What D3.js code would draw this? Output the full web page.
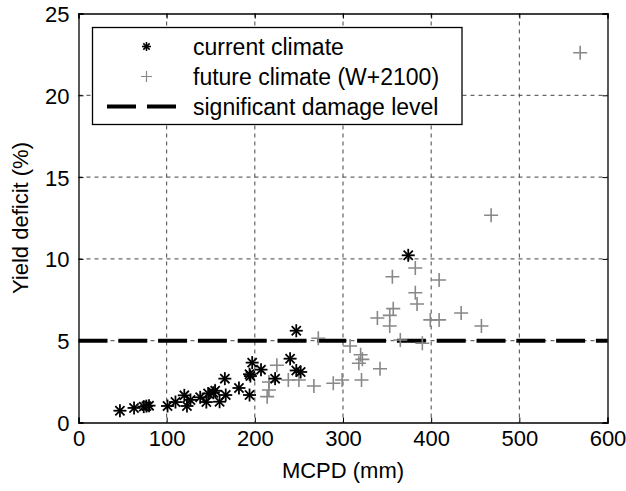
<!DOCTYPE html>
<html>
<head>
<meta charset="utf-8">
<script src="https://cdn.jsdelivr.net/npm/d3@7"></script>
<style>
  body { margin: 0; background: #fff; }
  text { font-family: "Liberation Sans", Arial, sans-serif; }
</style>
</head>
<body>
<svg width="626" height="491"></svg>
<script>
// current climate (asterisks)
var currentX = [47, 63, 74, 77, 80, 101, 110, 120, 123, 127, 138, 145, 147, 153, 155, 160, 167, 166, 182, 194, 194, 195, 197, 207, 223, 240, 247, 252, 247, 374];
var currentY = [0.72, 0.89, 0.97, 1.0, 1.03, 1.01, 1.25, 1.66, 1.01, 1.38, 1.54, 1.25, 1.77, 1.82, 1.94, 1.27, 1.68, 2.68, 2.11, 1.68, 2.95, 2.84, 3.66, 3.23, 2.68, 3.9, 3.18, 3.09, 5.61, 10.22];

// future climate W+2100 (plus signs)
var futureX = [155, 214, 216, 216, 225, 238, 250, 267, 272, 289, 299, 308, 318, 320, 322, 321, 342, 339, 353, 353, 357, 356, 365, 382, 382, 384, 390, 399, 409, 409, 434, 457, 468, 569];
var futureY = [1.94, 1.58, 1.99, 2.48, 3.5, 2.6, 2.6, 2.23, 5.15, 2.4, 2.6, 4.68, 3.62, 4.14, 3.86, 2.6, 3.29, 6.39, 6.55, 5.9, 6.96, 8.91, 5.04, 9.44, 7.93, 7.24, 4.84, 6.27, 6.27, 8.71, 6.69, 5.9, 12.67, 22.6];

var damageLevel = 5;
var xTicks = [0, 100, 200, 300, 400, 500, 600];
var yTicks = [0, 5, 10, 15, 20, 25];
var legendLabels = ['current climate', 'future climate (W+2100)', 'significant damage level'];

var svg = d3.select('svg');
var pLeft = 78.5, pRight = 607.5, pTop = 13.5, pBottom = 422.5;

var x = d3.scaleLinear().domain([0, 600]).range([pLeft, pRight]);
var y = d3.scaleLinear().domain([0, 25]).range([pBottom, pTop]);

// grid
svg.append('g').selectAll('line')
    .data(xTicks.slice(1, -1))
    .enter().append('line')
    .attr('x1', d => x(d)).attr('x2', d => x(d))
    .attr('y1', pTop).attr('y2', pBottom)
    .attr('stroke', '#444').attr('stroke-width', 1).attr('stroke-dasharray', '4,4');
svg.append('g').selectAll('line')
    .data(yTicks.slice(1, -1))
    .enter().append('line')
    .attr('y1', d => y(d)).attr('y2', d => y(d))
    .attr('x1', pLeft).attr('x2', pRight)
    .attr('stroke', '#444').attr('stroke-width', 1).attr('stroke-dasharray', '4,4');

// damage level line
svg.append('line')
    .attr('x1', pLeft).attr('x2', pRight)
    .attr('y1', y(damageLevel)).attr('y2', y(damageLevel))
    .attr('stroke', '#000').attr('stroke-width', 4)
    .attr('stroke-dasharray', '29,10.8');

// axes (box with inward ticks)
var xAxis = d3.axisBottom(x).tickValues(xTicks).tickSize(-5).tickPadding(8);
var yAxis = d3.axisLeft(y).tickValues(yTicks).tickSize(-5).tickPadding(9);
var gx = svg.append('g').attr('transform', 'translate(0,' + pBottom + ')').call(xAxis);
var gy = svg.append('g').attr('transform', 'translate(' + pLeft + ',0)').call(yAxis);
svg.append('g').attr('transform', 'translate(0,' + pTop + ')')
    .call(d3.axisTop(x).tickValues(xTicks).tickSize(-5).tickFormat(''));
svg.append('g').attr('transform', 'translate(' + pRight + ',0)')
    .call(d3.axisRight(y).tickValues(yTicks).tickSize(-5).tickFormat(''));
svg.selectAll('.domain').attr('stroke', '#000').attr('stroke-width', 1.3);
svg.selectAll('.tick line').attr('stroke', '#000');
gx.selectAll('text').attr('font-size', 22).attr('fill', '#000')
    .attr('font-family', '"Liberation Sans", Arial, sans-serif');
gy.selectAll('text').attr('font-size', 22).attr('fill', '#000').attr('dy', '0.36em')
    .attr('font-family', '"Liberation Sans", Arial, sans-serif');

// axis titles
svg.append('text').attr('x', (pLeft + pRight) / 2).attr('y', 478)
    .attr('text-anchor', 'middle').attr('font-size', 22).text('MCPD (mm)');
svg.append('text').attr('transform', 'translate(28,' + (pTop + pBottom) / 2 + ') rotate(-90)')
    .attr('text-anchor', 'middle').attr('font-size', 22).text('Yield deficit (%)');

// markers
function asterisk(g, cx, cy, r, w) {
  [0, 45, 90, 135].forEach(function(deg) {
    var rad = deg * Math.PI / 180;
    g.append('line')
      .attr('x1', cx - r * Math.cos(rad)).attr('y1', cy - r * Math.sin(rad))
      .attr('x2', cx + r * Math.cos(rad)).attr('y2', cy + r * Math.sin(rad))
      .attr('stroke', '#000').attr('stroke-width', w);
  });
}
function plus(g, cx, cy, r, w) {
  g.append('path')
    .attr('d', 'M' + (cx - r) + ',' + cy + 'H' + (cx + r) + 'M' + cx + ',' + (cy - r) + 'V' + (cy + r))
    .attr('stroke', '#888').attr('stroke-width', w).attr('fill', 'none');
}

var futureData = futureX.map((v, i) => ({x: v, y: futureY[i]}));
var currentData = currentX.map((v, i) => ({x: v, y: currentY[i]}));

var gf = svg.append('g');
futureData.forEach(d => plus(gf, x(d.x), y(d.y), 7, 1.6));
var gc = svg.append('g');
currentData.forEach(d => asterisk(gc, x(d.x), y(d.y), 6.5, 1.8));

// legend
var lg = svg.append('g');
lg.append('rect').attr('x', 92.5).attr('y', 27.5).attr('width', 369.5).attr('height', 97)
    .attr('fill', '#fff').attr('stroke', '#000').attr('stroke-width', 1.3);
var rows = [46.5, 76.5, 106.5];
asterisk(lg, 146.5, rows[0], 4.5, 1.6);
plus(lg, 146.5, rows[1], 5.5, 1.2);
lg.append('line').attr('x1', 107).attr('x2', 177).attr('y1', rows[2]).attr('y2', rows[2])
    .attr('stroke', '#000').attr('stroke-width', 4).attr('stroke-dasharray', '29,11');
legendLabels.forEach(function(t, i) {
  lg.append('text').attr('x', 193).attr('y', rows[i]).attr('dy', '0.35em')
    .attr('font-size', 23).text(t);
});
</script>
</body>
</html>
